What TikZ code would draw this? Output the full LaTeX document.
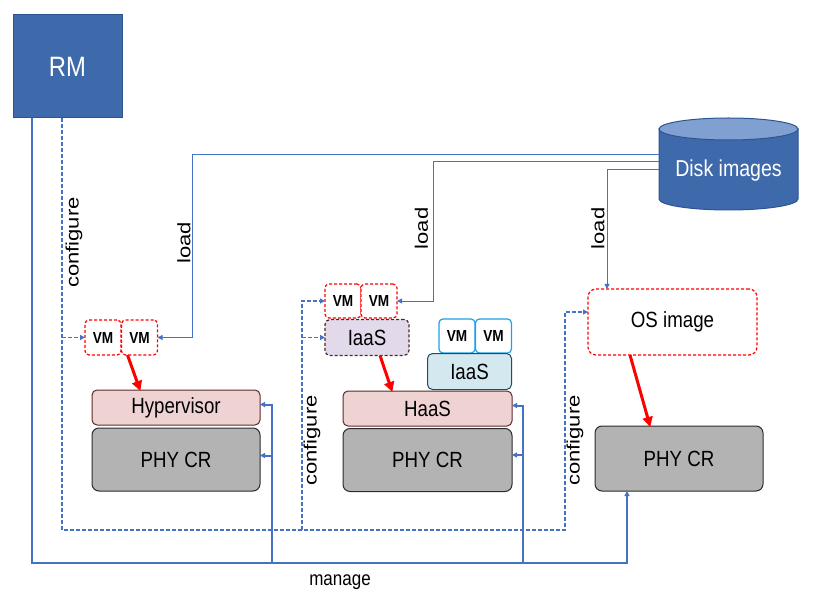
\documentclass[tikz,border=0pt]{standalone}
\usepackage{fontspec}
\setmainfont{Liberation Sans}[FakeStretch=0.85]
\newfontfamily\plainfont{Liberation Sans}
\usetikzlibrary{arrows.meta,calc}
\definecolor{rmblue}{HTML}{3E6AAC}
\definecolor{rmedge}{HTML}{2E5490}
\definecolor{disktop}{HTML}{7FA0D0}
\definecolor{lineblue}{HTML}{4472C4}
\definecolor{hypfill}{HTML}{EFD3D3}
\definecolor{hypedge}{HTML}{5C2A2A}
\definecolor{phyfill}{HTML}{B3B3B3}
\definecolor{phyedge}{HTML}{2B2B2B}
\definecolor{lavfill}{HTML}{E2DAEA}
\definecolor{lavedge}{HTML}{4A2A2A}
\definecolor{bluefill}{HTML}{D3E8EF}
\definecolor{blueedge}{HTML}{264B5A}
\definecolor{vmblue}{HTML}{1CA0E6}
\definecolor{redc}{HTML}{FF0000}
\tikzset{
  fs/.style={font=\fontsize{#1}{#1}\selectfont},
  vmbox/.style={draw=redc, line width=1.2pt, dash pattern=on 3pt off 2pt, rounded corners=4pt, fill=white,
    font=\bfseries\fontsize{16}{16}\selectfont, inner sep=0pt, outer sep=0pt, minimum width=36, minimum height=35},
  vmblue/.style={vmbox, draw=vmblue, solid},
  hypbox/.style={draw=hypedge, fill=hypfill, line width=1pt, rounded corners=5pt, inner sep=0pt, outer sep=0pt, fs=22},
  phybox/.style={draw=phyedge, fill=phyfill, line width=1pt, rounded corners=7pt, inner sep=0pt, outer sep=0pt, fs=22},
  manage/.style={draw=lineblue, line width=2pt},
  loadl/.style={draw=lineblue, line width=0.9pt},
  conf/.style={draw=lineblue, line width=1.3pt, dash pattern=on 4pt off 2pt},
  btip/.style={-{Triangle[length=5pt,width=5pt]}},
  redarr/.style={draw=redc, line width=3pt, -{Triangle[length=10pt,width=10pt]}, shorten >=-1pt},
  lbl/.style={font=\plainfont\fontsize{22}{22}\selectfont, rotate=90, inner sep=0pt},
}
\newcommand{\rl}[1]{\scalebox{1}[0.82]{#1}}
\begin{document}
\begin{tikzpicture}[x=1pt,y=-1pt]
\useasboundingbox (0,0) rectangle (824,609);

% RM
\node[draw=rmedge, fill=rmblue, line width=1pt, minimum width=109, minimum height=103, inner sep=0pt, outer sep=0pt,
  text=white, fs=28] (rm) at (67.5,66.5) {RM};

% Disk images cylinder
\node[minimum width=139, minimum height=92, inner sep=0pt, outer sep=0pt] (disk) at (728.5,164) {};
\path[fill=rmblue, draw=rmedge, line width=1pt] (659,129) -- (659,199)
  arc[start angle=180, end angle=0, x radius=69.5, y radius=11] -- (798,129) -- cycle;
\filldraw[fill=disktop, draw=rmedge, line width=1pt] (728.5,129) ellipse [x radius=69.5, y radius=11];
\node[text=white, fs=23] (disktxt) at (728.5,171) {Disk images};

% left stack
\node[vmbox] (vm1) at (103,337.5) {VM};
\node[vmbox] (vm2) at (139.5,337.5) {VM};
\node[hypbox, minimum width=168, minimum height=35] (hyp) at (176,407.5) {Hypervisor};
\node[phybox, minimum width=168, minimum height=63] (phy1) at (176,459.5) {PHY CR};

% middle stack
\node[vmbox, minimum height=34] (vm3) at (343,301) {VM};
\node[vmbox, minimum height=34] (vm4) at (379,301) {VM};
\node[draw=lavedge, fill=lavfill, line width=1.2pt, dash pattern=on 3pt off 2pt, rounded corners=5pt,
  minimum width=84, minimum height=36, inner sep=0pt, outer sep=0pt, fs=22] (iaas1) at (367,337.5) {IaaS};
\node[vmblue, minimum height=34] (vm5) at (457,336) {VM};
\node[vmblue, minimum height=34] (vm6) at (493.5,336) {VM};
\node[draw=blueedge, fill=bluefill, line width=1pt, rounded corners=5pt,
  minimum width=84, minimum height=36, inner sep=0pt, outer sep=0pt, fs=22] (iaas2) at (469.5,371.5) {IaaS};
\node[hypbox, minimum width=169, minimum height=35] (haas) at (427.5,408.5) {HaaS};
\node[phybox, minimum width=169, minimum height=63] (phy2) at (427.5,460) {PHY CR};

% right stack
\node[draw=redc, line width=1.2pt, dash pattern=on 3pt off 2pt, rounded corners=8pt, fill=white,
  minimum width=169, minimum height=66, inner sep=0pt, outer sep=0pt, fs=22] (osimg) at (672.5,322) {OS image};
\node[phybox, minimum width=168, minimum height=65] (phy3) at (679,458.5) {PHY CR};

% red arrows
\draw[redarr] ([xshift=6pt]vm2.south west) -- ([xshift=48pt]hyp.north west);
\draw[redarr] ([xshift=55pt]iaas1.south west) -- ([xshift=49pt]haas.north west);
\draw[redarr] ([xshift=42pt]osimg.south west) -- ([xshift=55pt]phy3.north west);

% manage lines
\coordinate (mg) at (0,563);
\coordinate (rmL) at ([xshift=19pt]rm.south west);
\coordinate (m3) at ([xshift=32pt]phy3.south west);
\draw[manage, btip] (rmL) -- (rmL |- mg) -| (m3);
\coordinate (b1) at (272,563);
\coordinate (b2) at (523,563);
\draw[manage, btip] (b1) |- ([yshift=3pt]hyp.east);
\draw[manage, btip] (b1) |- ([yshift=4pt]phy1.east);
\draw[manage, btip] (b2) |- ([yshift=3pt]haas.east);
\draw[manage, btip] (b2) |- ([yshift=5pt]phy2.east);
\node[fs=20] (mlbl) at (340,582) {manage};

% configure lines
\coordinate (cf) at (0,530);
\coordinate (rmC) at ([xshift=49pt]rm.south west);
\coordinate (c2) at (302,530);
\draw[conf, btip] (rmC) |- (cf -| 565,0) |- ([yshift=10pt]osimg.west);
\draw[conf, btip] (rmC |- vm1.west) -- (vm1.west);
\draw[conf, btip] (c2) |- (vm3.west);
\draw[conf, btip] (c2 |- iaas1.west) -- (iaas1.west);
\node[lbl] (cfg1) at (74,242.5) {\rl{configure}};
\node[lbl] (cfg2) at (312,440.5) {\rl{configure}};
\node[lbl] (cfg3) at (575,440.5) {\rl{configure}};

% load lines
\draw[loadl, btip] ([yshift=10pt]disk.west) -| ($(vm2.east)+(35,0)$) -- (vm2.east);
\draw[loadl, btip] ([yshift=3pt]disk.west) -| ($(vm4.east)+(36,0)$) -- (vm4.east);
\draw[loadl, btip] ([yshift=-5pt]disk.west) -| ([xshift=19pt]osimg.north west);
\node[lbl] (ld1) at (184,243) {\rl{load}};
\node[lbl] (ld2) at (421.5,228.5) {\rl{load}};
\node[lbl] (ld3) at (598,228.5) {\rl{load}};
\end{tikzpicture}
\end{document}
